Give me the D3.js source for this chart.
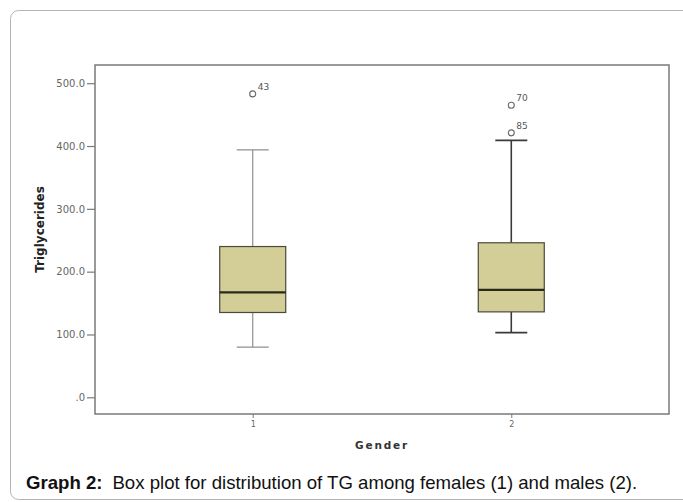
<!DOCTYPE html>
<html>
<head>
<meta charset="utf-8">
<script src="https://cdn.jsdelivr.net/npm/d3@7"></script>
<style>
  html, body { margin: 0; padding: 0; background: #fff; }
  svg { display: block; }
</style>
</head>
<body>
<svg id="chart" width="683" height="502"></svg>
<script>
// Box plot summary per gender
const groups = ["1", "2"];
const whiskerLow = [80, 103];
const q1 = [135, 136];
const median = [167, 171];
const q3 = [240, 246];
const whiskerHigh = [394, 409];
const outlierGroup = ["1", "2", "2"];
const outlierValue = [483, 465, 421];
const outlierId = ["43", "70", "85"];
const yTicks = [0, 100, 200, 300, 400, 500];

const W = 683, H = 502;
const frame = { left: 95, right: 669, top: 65, bottom: 414 };

const svg = d3.select("#chart");

// card outline
svg.append("rect")
  .attr("x", 10.5).attr("y", 10.5)
  .attr("width", 684).attr("height", 489)
  .attr("rx", 8)
  .attr("fill", "#fff").attr("stroke", "#b4b4b4").attr("stroke-width", 1);

const x = d3.scalePoint()
  .domain(groups)
  .range([frame.left, frame.right])
  .padding(0.61);

const y = d3.scaleLinear()
  .domain([-26.6, 529])
  .range([frame.bottom, frame.top]);

// plot frame
svg.append("rect")
  .attr("x", frame.left).attr("y", frame.top)
  .attr("width", frame.right - frame.left).attr("height", frame.bottom - frame.top)
  .attr("fill", "none").attr("stroke", "#7a7a7a").attr("stroke-width", 1.5);

// y axis
const yAxis = svg.append("g")
  .attr("transform", `translate(${frame.left},0)`)
  .call(d3.axisLeft(y).tickValues(yTicks).tickSize(8).tickPadding(2)
    .tickFormat(d => d === 0 ? ".0" : d.toFixed(1)));
yAxis.select(".domain").remove();
yAxis.selectAll("line").attr("stroke", "#7a7a7a").attr("stroke-width", 1.2);
yAxis.selectAll("text")
  .attr("fill", "#666").style("font-family", "DejaVu Sans, sans-serif").style("font-size", "10px");

// x axis
const xAxis = svg.append("g")
  .attr("transform", `translate(0,${frame.bottom})`)
  .call(d3.axisBottom(x).tickSize(4).tickPadding(3));
xAxis.select(".domain").remove();
xAxis.selectAll("line").attr("stroke", "#7a7a7a");
xAxis.selectAll("text")
  .attr("fill", "#666").style("font-family", "DejaVu Sans, sans-serif").style("font-size", "8px");

// axis titles
svg.append("text")
  .attr("transform", `translate(44,${(frame.top + frame.bottom) / 2 - 10}) rotate(-90)`)
  .attr("text-anchor", "middle")
  .style("font-family", "DejaVu Sans, sans-serif").style("font-size", "12px").style("font-weight", "bold")
  .attr("fill", "#222")
  .text("Triglycerides");

svg.append("text")
  .attr("x", 382).attr("y", 449)
  .attr("text-anchor", "middle")
  .style("font-family", "DejaVu Sans, sans-serif").style("font-size", "10.5px").style("font-weight", "bold")
  .style("letter-spacing", "1.8px")
  .attr("fill", "#333")
  .text("Gender");

// boxes
const boxW = 66, capW = 32;
const whiskerColor = ["#8f8f8f", "#3a3a3a"];
const whiskerWidth = [1.2, 1.6];

groups.forEach((gname, i) => {
  const cx = x(gname);
  const g = svg.append("g");
  // whiskers
  g.append("line")
    .attr("x1", cx).attr("x2", cx).attr("y1", y(q3[i])).attr("y2", y(whiskerHigh[i]))
    .attr("stroke", whiskerColor[i]).attr("stroke-width", whiskerWidth[i]);
  g.append("line")
    .attr("x1", cx).attr("x2", cx).attr("y1", y(q1[i])).attr("y2", y(whiskerLow[i]))
    .attr("stroke", whiskerColor[i]).attr("stroke-width", whiskerWidth[i]);
  [whiskerHigh[i], whiskerLow[i]].forEach(v => {
    g.append("line")
      .attr("x1", cx - capW / 2).attr("x2", cx + capW / 2).attr("y1", y(v)).attr("y2", y(v))
      .attr("stroke", whiskerColor[i]).attr("stroke-width", whiskerWidth[i]);
  });
  // box
  g.append("rect")
    .attr("x", cx - boxW / 2).attr("y", y(q3[i]))
    .attr("width", boxW).attr("height", y(q1[i]) - y(q3[i]))
    .attr("fill", "#d3ce98").attr("stroke", "#4a4a3a").attr("stroke-width", 1.2);
  // median
  g.append("line")
    .attr("x1", cx - boxW / 2).attr("x2", cx + boxW / 2)
    .attr("y1", y(median[i])).attr("y2", y(median[i]))
    .attr("stroke", "#2b2a1a").attr("stroke-width", 2.2);
});

// outliers
outlierValue.forEach((v, i) => {
  const cx = x(outlierGroup[i]), cy = y(v);
  svg.append("circle")
    .attr("cx", cx).attr("cy", cy).attr("r", 3)
    .attr("fill", "none").attr("stroke", "#666").attr("stroke-width", 1.1);
  svg.append("text")
    .attr("x", cx + 5).attr("y", cy - 4)
    .style("font-family", "DejaVu Sans, sans-serif").style("font-size", "9px")
    .attr("fill", "#555")
    .text(outlierId[i]);
});

// caption
const cap = svg.append("text")
  .attr("x", 26).attr("y", 489)
  .style("font-family", "Liberation Sans, Arial, sans-serif").style("font-size", "18.6px")
  .attr("fill", "#111");
cap.append("tspan").style("font-weight", "bold").text("Graph 2:");
cap.append("tspan").attr("dx", 10).text("Box plot for distribution of TG among females (1) and males (2).");
</script>
</body>
</html>
